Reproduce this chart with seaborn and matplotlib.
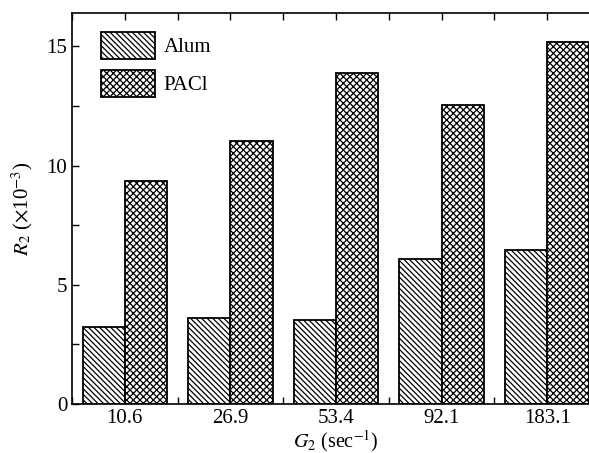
import matplotlib
matplotlib.use("agg")
import matplotlib.pyplot as plt
import seaborn as sns
import pandas as pd
from matplotlib.patches import Patch
from matplotlib.ticker import MultipleLocator

# data
g2_labels = ["10.6", "26.9", "53.4", "92.1", "183.1"]
alum = [3.23, 3.62, 3.51, 6.10, 6.45]
pacl = [9.35, 11.04, 13.9, 12.55, 15.2]
series = ["Alum", "PACl"]
hatches = {"Alum": "\\\\\\\\\\\\", "PACl": "xxxxx"}

df = pd.DataFrame({
    "G2": g2_labels * 2,
    "R2": alum + pacl,
    "coag": ["Alum"] * len(alum) + ["PACl"] * len(pacl),
})

sns.set_theme(style="ticks")
plt.rcParams["font.family"] = ["Liberation Serif", "DejaVu Serif"]
plt.rcParams["mathtext.fontset"] = "stix"
plt.rcParams["hatch.linewidth"] = 0.9
plt.rcParams["text.color"] = "black"
plt.rcParams["axes.labelcolor"] = "black"
plt.rcParams["xtick.color"] = "black"
plt.rcParams["ytick.color"] = "black"

fs = 15

fig = plt.figure(figsize=(5.89, 4.53), dpi=100)
ax = fig.add_axes([72 / 589, 1 - 404 / 453, 528 / 589, 391 / 453])

sns.barplot(data=df, x="G2", y="R2", hue="coag", order=g2_labels,
            hue_order=series, palette=["white", "white"], width=0.8,
            edgecolor="black", linewidth=1.3, legend=False, ax=ax,
            saturation=1)

for cont, name in zip(ax.containers, series):
    for bar in cont:
        bar.set_hatch(hatches[name])
        bar.set_edgecolor("black")

ax.set_xlim(-0.5, 4.5)
ax.set_ylim(0, 16.4)
ax.yaxis.set_major_locator(MultipleLocator(5))
ax.yaxis.set_minor_locator(MultipleLocator(2.5))
ax.xaxis.set_minor_locator(MultipleLocator(0.5))
ax.tick_params(axis="both", which="both", direction="in", top=True,
               labelsize=fs, width=1.0, length=5)
for sp in ax.spines.values():
    sp.set_linewidth(1.2)
    sp.set_color("black")

ax.set_xlabel("$G_2$ (sec$^{-1}$)", fontsize=fs - 0.5, labelpad=0)
ax.set_ylabel("$R_2$ ($\\times$10$^{-3}$)", fontsize=fs, labelpad=8)

handles = [Patch(facecolor="white", edgecolor="black", hatch=hatches[s],
                 linewidth=1.3, label=s) for s in series]
ax.legend(handles=handles, loc="upper left", bbox_to_anchor=(0.02, 1.0),
          frameon=False, fontsize=fs, handlelength=2.6, handleheight=1.6,
          labelspacing=0.55, handletextpad=0.4)

fig.savefig("out.png", dpi=100)
